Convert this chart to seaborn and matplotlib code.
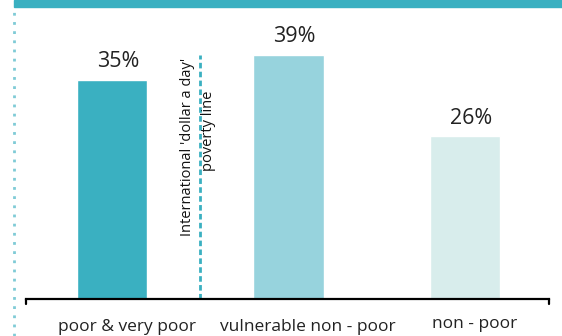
import matplotlib
matplotlib.use("Agg")
import matplotlib.pyplot as plt
import seaborn as sns
import pandas as pd
from matplotlib.lines import Line2D
from matplotlib.patches import Rectangle

categories = ["poor & very poor", "vulnerable non - poor", "non - poor"]
values = [35, 39, 26]
labels = ["35%", "39%", "26%"]
colors = ["#3AB0C1", "#97D3DD", "#D8EDEC"]
line_text1 = "International 'dollar a day'"
line_text2 = "poverty line"

sns.set_theme(style="white")
plt.rcParams["font.family"] = ["Open Sans", "DejaVu Sans"]

W, H = 562, 336
fig = plt.figure(figsize=(W / 100, H / 100), dpi=100)

# axes in pixel coordinates
left, right, bottom, top = 26, 549, 299, 7
ax = fig.add_axes([left / W, 1 - bottom / H, (right - left) / W, (bottom - top) / H])

df = pd.DataFrame({"cat": categories, "val": values})
sns.barplot(data=df, x="cat", y="val", hue="cat", palette=colors, legend=False,
            width=0.397, ax=ax, saturation=1)

ax.set_xlim(-0.487, 2.476)
ax.set_ylim(0, 46.6)
for i, (v, lab) in enumerate(zip(values, labels)):
    ax.annotate(lab, (i, v), xytext=(4.5, 9.0), textcoords="offset points",
                ha="center", va="baseline", fontsize=15.5, color="#222222")

for s in ["top", "right", "left"]:
    ax.spines[s].set_visible(False)
ax.spines["bottom"].set_color("black")
ax.spines["bottom"].set_linewidth(1.6)
ax.set_yticks([])
ax.set_xlabel("")
ax.set_ylabel("")
ax.set_xticks([])

# category labels (placed like the reference)
label_x = [0.085, 1.108, 2.057]
label_base_px = [331, 331, 328]
for xv, py, txt in zip(label_x, label_base_px, categories):
    ax.text(xv, (bottom - py) / (bottom - top), txt, transform=ax.get_xaxis_transform(),
            ha="center", va="baseline", fontsize=12.5, color="#222222", clip_on=False)

# end ticks on the axis line
for xv in (-0.487, 2.476):
    ax.plot([xv, xv], [0, -0.8], color="black", lw=1.6, clip_on=False)

# poverty line
ax.plot([0.499, 0.499], [0, 38.9], color="#3AB0C1", lw=2, ls=(0, (2.0, 1.2)))
ax.text(0.428, 24.3, line_text1, rotation=90, ha="center", va="center",
        fontsize=10.5, color="#111111")
ax.text(0.548, 26.8, line_text2, rotation=90, ha="center", va="center",
        fontsize=10.5, color="#111111")

# top band and dotted left line
fig.patches.append(Rectangle((14 / W, 1 - 7 / H), 1, 7 / H, transform=fig.transFigure,
                             color="#3AB0C1", zorder=5))
fig.lines.append(Line2D([14 / W, 14 / W], [0, 1 - 7 / H], transform=fig.transFigure,
                        color="#7FCBD6", lw=2, ls=(0, (1, 2.3))))

fig.savefig("out.png", dpi=100)
